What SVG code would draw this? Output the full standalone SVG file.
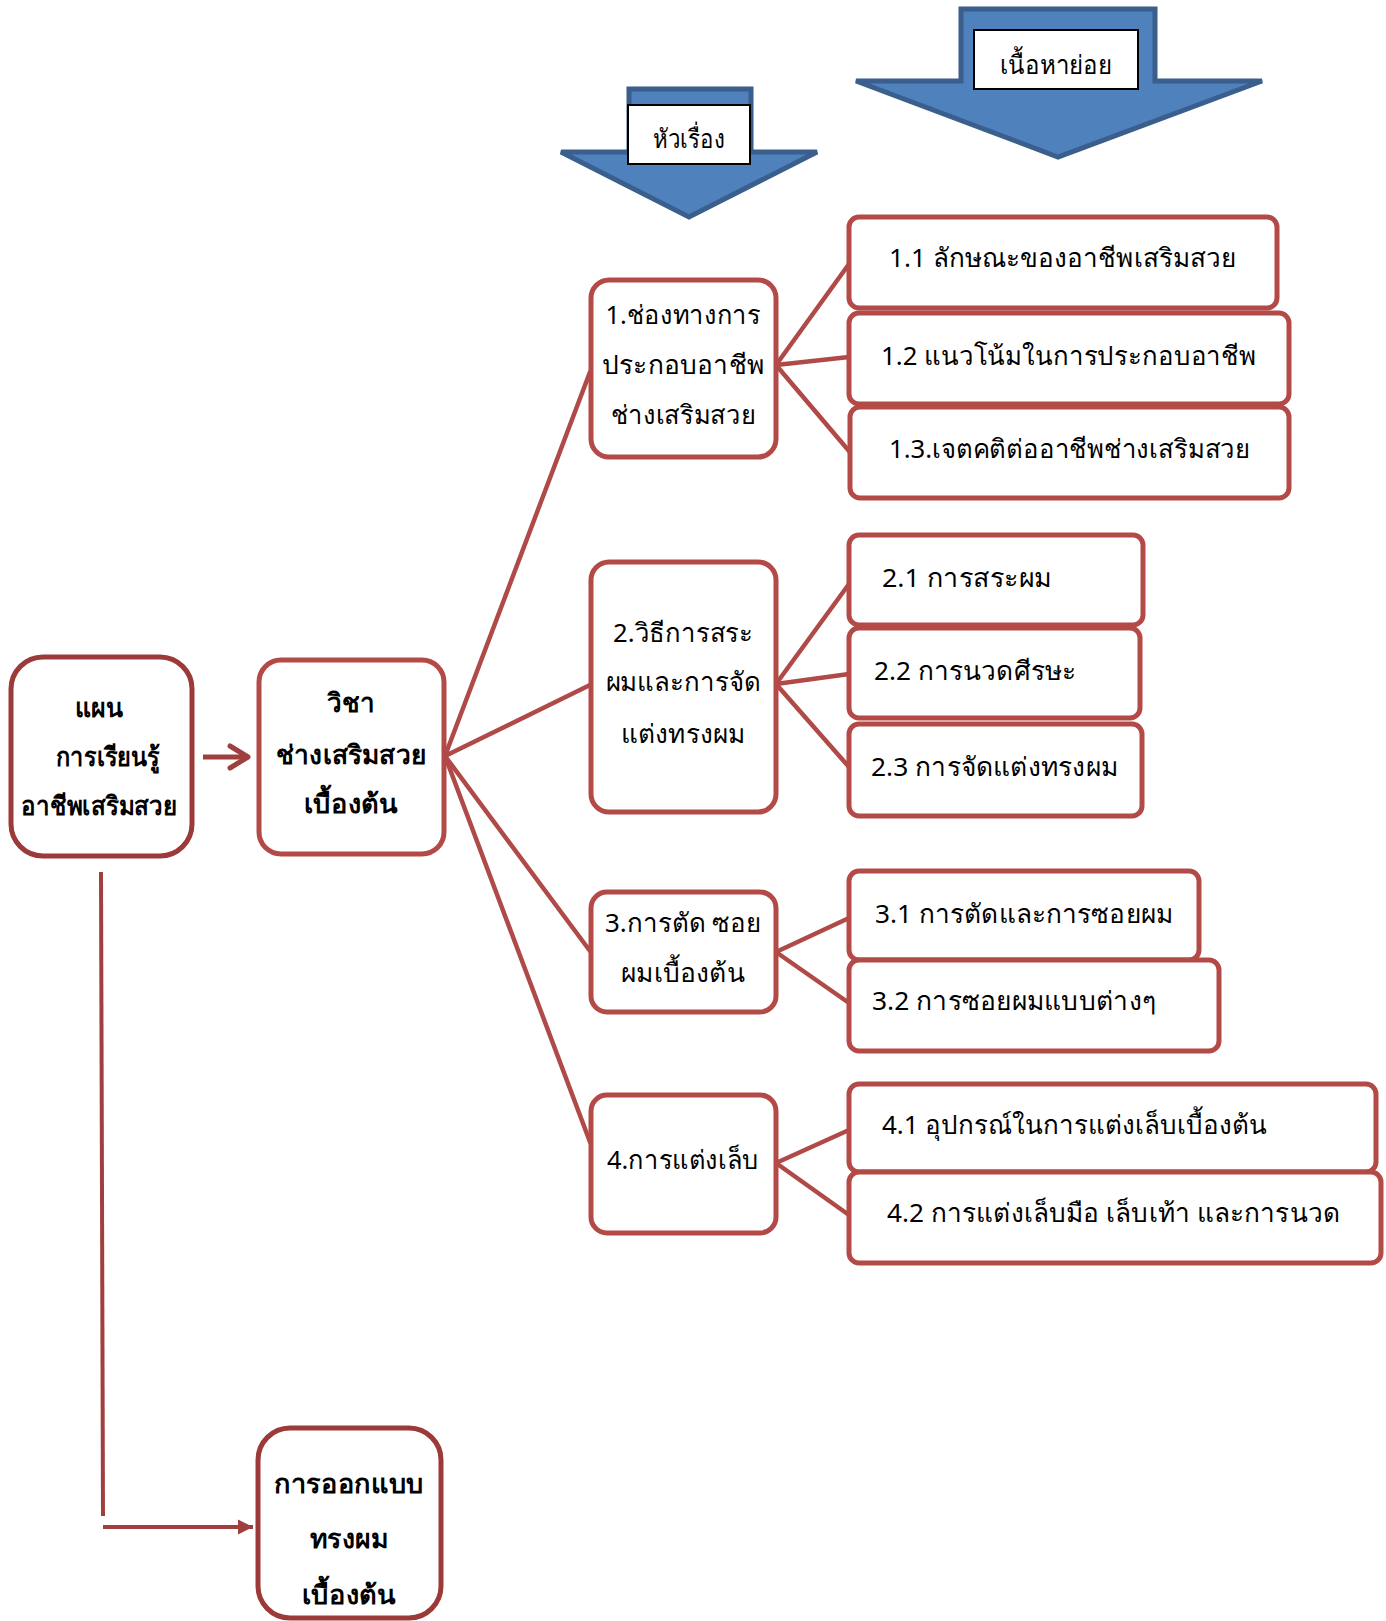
<svg xmlns="http://www.w3.org/2000/svg" width="1386" height="1621" viewBox="0 0 1386 1621">
<defs>
<style>
.blk{fill:#4F81BD;stroke:#3A5F8C;stroke-width:5;stroke-linejoin:miter}
.lbl{fill:#fff;stroke:#000;stroke-width:2}
.main{fill:#fff;stroke:#9B3A38;stroke-width:5}
.topic{fill:#fff;stroke:#B44A47;stroke-width:5}
.sub{fill:#fff;stroke:#B44A47;stroke-width:5}
.con{stroke:#B04A48;stroke-width:4.5;fill:none;stroke-linecap:round}
.t{font-family:"Noto Sans","DejaVu Sans",sans-serif;font-size:26px;fill:#000}
.b{font-family:"Noto Sans","DejaVu Sans",sans-serif;font-size:26px;font-weight:bold;fill:#000}
.m{text-anchor:middle}
</style>
<marker id="open" markerWidth="28" markerHeight="28" refX="22" refY="14" orient="auto" markerUnits="userSpaceOnUse">
<path d="M4,3 L22,14 L4,25" fill="none" stroke="#A0403E" stroke-width="5" stroke-linecap="round" stroke-linejoin="round"/>
</marker>
<marker id="fill" markerWidth="16" markerHeight="16" refX="15" refY="8" orient="auto" markerUnits="userSpaceOnUse">
<path d="M0,0.5 L15,8 L0,15.5 Z" fill="#A0403E"/>
</marker>
</defs>

<g id="header-topic">
<path class="blk" d="M629,89 H751 V152 H817 L689,217 L561,152 H629 Z"/>
<rect class="lbl" x="628" y="105" width="122" height="59"/>
<text class="t m" x="689" y="148" textLength="72" lengthAdjust="spacingAndGlyphs">หัวเรื่อง</text>
</g>

<g id="header-sub">
<path class="blk" d="M961,9 H1155 V81 H1262 L1058,157 L856,81 H961 Z"/>
<rect class="lbl" x="974" y="30" width="164" height="59"/>
<text class="t m" x="1056" y="74" textLength="112" lengthAdjust="spacingAndGlyphs">เนื้อหาย่อย</text>
</g>

<g id="connectors">
<line class="con" x1="445" y1="756" x2="590" y2="372"/>
<line class="con" x1="445" y1="756" x2="590" y2="685"/>
<line class="con" x1="445" y1="756" x2="590" y2="951"/>
<line class="con" x1="445" y1="756" x2="590" y2="1142"/>
<line class="con" x1="776" y1="365" x2="849" y2="264"/>
<line class="con" x1="776" y1="365" x2="849" y2="357"/>
<line class="con" x1="776" y1="365" x2="849" y2="451"/>
<line class="con" x1="776" y1="684" x2="849" y2="584"/>
<line class="con" x1="776" y1="684" x2="849" y2="674"/>
<line class="con" x1="776" y1="684" x2="849" y2="767"/>
<line class="con" x1="776" y1="952" x2="849" y2="918"/>
<line class="con" x1="776" y1="952" x2="849" y2="1003"/>
<line class="con" x1="776" y1="1163" x2="849" y2="1130"/>
<line class="con" x1="776" y1="1163" x2="849" y2="1215"/>
<line x1="203" y1="757" x2="248" y2="757" stroke="#A0403E" stroke-width="5" marker-end="url(#open)"/>
<line x1="101" y1="872" x2="103" y2="1516" stroke="#A0403E" stroke-width="4"/>
<line x1="103" y1="1527" x2="253" y2="1527" stroke="#A0403E" stroke-width="4" marker-end="url(#fill)"/>
</g>

<g id="plan">
<rect class="main" x="11" y="657" width="181" height="199" rx="32"/>
<text class="b m" x="99" y="717" textLength="48" lengthAdjust="spacingAndGlyphs">แผน</text>
<text class="b m" x="108" y="766" textLength="104" lengthAdjust="spacingAndGlyphs">การเรียนรู้</text>
<text class="b m" x="99" y="815" textLength="156" lengthAdjust="spacingAndGlyphs">อาชีพเสริมสวย</text>
</g>

<g id="subject">
<rect class="topic" x="259" y="660" width="185" height="194" rx="22"/>
<text class="b m" x="351" y="712" textLength="48" lengthAdjust="spacingAndGlyphs">วิชา</text>
<text class="b m" x="351" y="764" textLength="150" lengthAdjust="spacingAndGlyphs">ช่างเสริมสวย</text>
<text class="b m" x="351" y="813" textLength="94" lengthAdjust="spacingAndGlyphs">เบื้องต้น</text>
</g>

<g id="design">
<rect class="main" x="258" y="1428" width="183" height="190" rx="32"/>
<text class="b m" x="349" y="1493" textLength="150" lengthAdjust="spacingAndGlyphs">การออกแบบ</text>
<text class="b m" x="349" y="1548" textLength="78" lengthAdjust="spacingAndGlyphs">ทรงผม</text>
<text class="b m" x="349" y="1604" textLength="94" lengthAdjust="spacingAndGlyphs">เบื้องต้น</text>
</g>

<g id="topic1">
<rect class="topic" x="591" y="280" width="185" height="177" rx="18"/>
<text class="t m" x="683" y="324" textLength="155" lengthAdjust="spacingAndGlyphs">1.ช่องทางการ</text>
<text class="t m" x="683" y="374" textLength="162" lengthAdjust="spacingAndGlyphs">ประกอบอาชีพ</text>
<text class="t m" x="683" y="424" textLength="145" lengthAdjust="spacingAndGlyphs">ช่างเสริมสวย</text>
</g>

<g id="topic2">
<rect class="topic" x="591" y="562" width="185" height="250" rx="18"/>
<text class="t m" x="683" y="642" textLength="140" lengthAdjust="spacingAndGlyphs">2.วิธีการสระ</text>
<text class="t m" x="683" y="691" textLength="155" lengthAdjust="spacingAndGlyphs">ผมและการจัด</text>
<text class="t m" x="683" y="743" textLength="124" lengthAdjust="spacingAndGlyphs">แต่งทรงผม</text>
</g>

<g id="topic3">
<rect class="topic" x="591" y="892" width="185" height="120" rx="16"/>
<text class="t m" x="683" y="932" textLength="156" lengthAdjust="spacingAndGlyphs">3.การตัด ซอย</text>
<text class="t m" x="683" y="982" textLength="124" lengthAdjust="spacingAndGlyphs">ผมเบื้องต้น</text>
</g>

<g id="topic4">
<rect class="topic" x="591" y="1095" width="185" height="138" rx="16"/>
<text class="t m" x="683" y="1169" textLength="152" lengthAdjust="spacingAndGlyphs">4.การแต่งเล็บ</text>
</g>

<g id="s11">
<rect class="sub" x="849" y="217" width="428" height="91" rx="10"/>
<text class="t" x="889" y="267" textLength="347" lengthAdjust="spacingAndGlyphs">1.1 ลักษณะของอาชีพเสริมสวย</text>
</g>
<g id="s12">
<rect class="sub" x="849" y="313" width="440" height="91" rx="10"/>
<text class="t" x="881" y="365" textLength="375" lengthAdjust="spacingAndGlyphs">1.2 แนวโน้มในการประกอบอาชีพ</text>
</g>
<g id="s13">
<rect class="sub" x="850" y="407" width="439" height="91" rx="10"/>
<text class="t" x="889" y="458" textLength="361" lengthAdjust="spacingAndGlyphs">1.3.เจตคติต่ออาชีพช่างเสริมสวย</text>
</g>
<g id="s21">
<rect class="sub" x="849" y="535" width="294" height="90" rx="10"/>
<text class="t" x="882" y="587" textLength="170" lengthAdjust="spacingAndGlyphs">2.1 การสระผม</text>
</g>
<g id="s22">
<rect class="sub" x="849" y="628" width="291" height="90" rx="10"/>
<text class="t" x="874" y="680" textLength="202" lengthAdjust="spacingAndGlyphs">2.2 การนวดศีรษะ</text>
</g>
<g id="s23">
<rect class="sub" x="849" y="724" width="293" height="92" rx="10"/>
<text class="t" x="871" y="776" textLength="247" lengthAdjust="spacingAndGlyphs">2.3 การจัดแต่งทรงผม</text>
</g>
<g id="s31">
<rect class="sub" x="849" y="871" width="350" height="89" rx="10"/>
<text class="t" x="875" y="923" textLength="298" lengthAdjust="spacingAndGlyphs">3.1 การตัดและการซอยผม</text>
</g>
<g id="s32">
<rect class="sub" x="849" y="960" width="370" height="91" rx="10"/>
<text class="t" x="872" y="1010" textLength="284" lengthAdjust="spacingAndGlyphs">3.2 การซอยผมแบบต่างๆ</text>
</g>
<g id="s41">
<rect class="sub" x="849" y="1084" width="527" height="88" rx="10"/>
<text class="t" x="882" y="1134" textLength="385" lengthAdjust="spacingAndGlyphs">4.1 อุปกรณ์ในการแต่งเล็บเบื้องต้น</text>
</g>
<g id="s42">
<rect class="sub" x="849" y="1172" width="532" height="91" rx="10"/>
<text class="t" x="887" y="1222" textLength="453" lengthAdjust="spacingAndGlyphs">4.2 การแต่งเล็บมือ เล็บเท้า และการนวด</text>
</g>
</svg>
